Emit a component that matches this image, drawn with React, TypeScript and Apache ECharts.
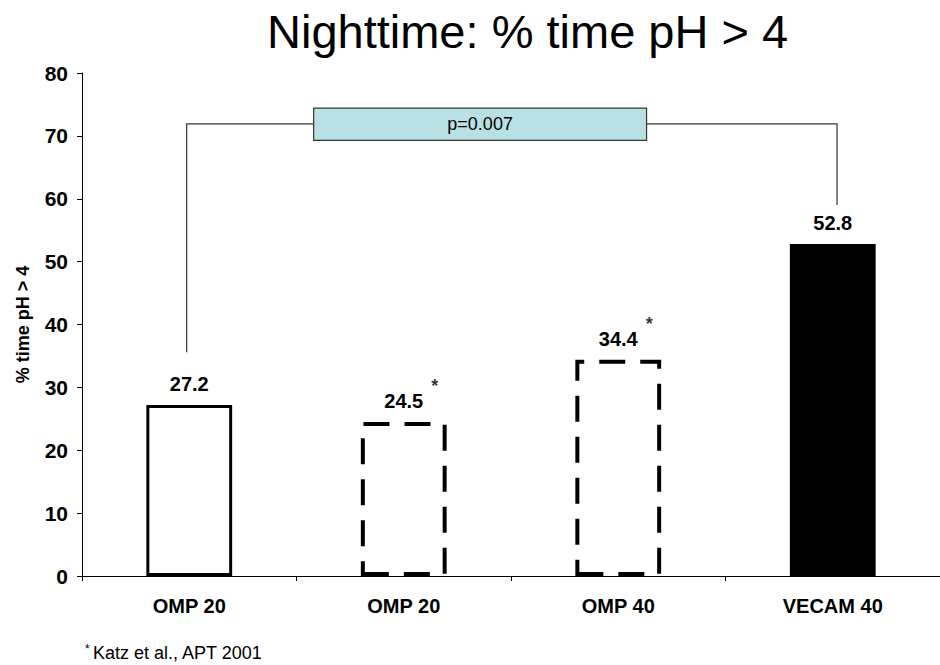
import React, { useEffect, useRef } from "react";
import * as echarts from "echarts";

// ---- data ----
const categories = ["OMP 20", "OMP 20", "OMP 40", "VECAM 40"];
const values = [27.2, 24.5, 34.4, 52.8];
const starred = [false, true, true, false];
const yMin = 0;
const yMax = 80;
const yInterval = 10;

const titleText = "Nighttime: % time pH > 4";
const yAxisName = "% time pH > 4";
const pValueText = "p=0.007";
const footnoteText = "Katz et al., APT 2001";

// significance bracket (in data units: category index / y value)
const bracketLevel = 71.9;
const bracketLeftEnd = 35.6;
const bracketRightEnd = 59.0;
const bracketLeftIdx = -0.012;
const bracketRightIdx = 3.02;
const boxTopVal = 74.4;
const boxBottomVal = 69.3;
const boxLeftIdx = 0.58;
const boxRightIdx = 2.132;

const FONT = "'Liberation Sans', Arial, Helvetica, sans-serif";

const barStyles = [
  { color: "#ffffff", borderColor: "#000000", borderWidth: 3, borderType: "solid" },
  { color: "#ffffff", borderColor: "#000000", borderWidth: 4, borderType: [26, 15] },
  { color: "#ffffff", borderColor: "#000000", borderWidth: 4, borderType: [26, 15] },
  { color: "#000000", borderColor: "#000000", borderWidth: 0 },
];

export default function App() {
  const ref = useRef<HTMLDivElement>(null);

  useEffect(() => {
    if (!ref.current) return;
    const chart = echarts.init(ref.current, null, { renderer: "svg" });

    const option: any = {
      animation: false,
      backgroundColor: "#ffffff",
      textStyle: { fontFamily: FONT },
      title: {
        text: titleText,
        left: 262,
        top: 3,
        textStyle: { fontFamily: FONT, fontSize: 47, fontWeight: "normal", color: "#000" },
      },
      grid: { left: 82, top: 73, width: 868, height: 503, containLabel: false },
      xAxis: {
        type: "category",
        data: categories,
        boundaryGap: true,
        axisLine: { lineStyle: { color: "#000", width: 1 } },
        axisTick: { show: true, length: 5, lineStyle: { color: "#000" } },
        axisLabel: { fontSize: 20, fontWeight: "bold", color: "#000", margin: 20, fontFamily: FONT },
        splitLine: { show: false },
      },
      yAxis: {
        type: "value",
        min: yMin,
        max: yMax,
        interval: yInterval,
        name: yAxisName,
        nameLocation: "middle",
        nameGap: 50,
        nameRotate: 90,
        nameTextStyle: { fontSize: 18, fontWeight: "bold", color: "#000", fontFamily: FONT },
        axisLine: { show: true, lineStyle: { color: "#000", width: 1 } },
        axisTick: { show: true, length: 5, lineStyle: { color: "#000" } },
        axisLabel: { fontSize: 21, fontWeight: "bold", color: "#000", margin: 14, fontFamily: FONT },
        splitLine: { show: false },
      },
      series: [
        {
          type: "bar",
          barWidth: "40%",
          data: values.map((v, i) => ({ value: v, itemStyle: barStyles[i] })),
          label: {
            show: true,
            position: "top",
            distance: 11,
            fontSize: 20,
            fontWeight: "bold",
            color: "#000",
            fontFamily: FONT,
          },
          z: 2,
        },
        {
          type: "scatter",
          symbolSize: 0,
          silent: true,
          data: values.flatMap((v, i) => (starred[i] ? [[i, v]] : [])),
          label: {
            show: true,
            position: "inside",
            formatter: "*",
            offset: [31, -36],
            fontSize: 18,
            fontWeight: "bold",
            color: "#000",
            fontFamily: FONT,
          },
          z: 3,
        },
      ],
    };
    chart.setOption(option);

    const px = (idx: number, val: number) => {
      const p0 = chart.convertToPixel({ xAxisIndex: 0, yAxisIndex: 0 }, [0, val]) as number[];
      const p1 = chart.convertToPixel({ xAxisIndex: 0, yAxisIndex: 0 }, [1, val]) as number[];
      return [p0[0] + (p1[0] - p0[0]) * idx, p0[1]];
    };

    const lTop = px(bracketLeftIdx, bracketLevel);
    const lBot = px(bracketLeftIdx, bracketLeftEnd);
    const rTop = px(bracketRightIdx, bracketLevel);
    const rBot = px(bracketRightIdx, bracketRightEnd);
    const bTL = px(boxLeftIdx, boxTopVal);
    const bBR = px(boxRightIdx, boxBottomVal);
    const lineStyle = { stroke: "#333333", lineWidth: 1.2, fill: null };

    chart.setOption({
      graphic: [
        {
          type: "polyline",
          shape: { points: [lBot, lTop, [bTL[0], lTop[1]]] },
          style: lineStyle,
          z: 10,
        },
        {
          type: "polyline",
          shape: { points: [[bBR[0], rTop[1]], rTop, rBot] },
          style: lineStyle,
          z: 10,
        },
        {
          type: "rect",
          shape: { x: bTL[0], y: bTL[1], width: bBR[0] - bTL[0], height: bBR[1] - bTL[1] },
          style: { fill: "#b9e0e4", stroke: "#333333", lineWidth: 1.2 },
          z: 10,
        },
        {
          type: "text",
          x: (bTL[0] + bBR[0]) / 2,
          y: (bTL[1] + bBR[1]) / 2,
          style: {
            text: pValueText,
            fontSize: 18,
            fontFamily: FONT,
            fill: "#000",
            align: "center",
            verticalAlign: "middle",
          },
          z: 11,
        },
        {
          type: "text",
          x: 85,
          y: 653,
          style: {
            text: "{s|*} {t|" + footnoteText + "}",
            rich: {
              s: { fontSize: 12, fontFamily: FONT, fill: "#000", padding: [0, 0, 8, 0] },
              t: { fontSize: 18, fontFamily: FONT, fill: "#000" },
            },
            fill: "#000",
            align: "left",
            verticalAlign: "middle",
          },
          z: 11,
        },
      ],
    });

    return () => chart.dispose();
  }, []);

  return (
    <div
      ref={ref}
      style={{ position: "absolute", left: 0, top: 0, width: 940, height: 665, background: "#fff" }}
    />
  );
}
